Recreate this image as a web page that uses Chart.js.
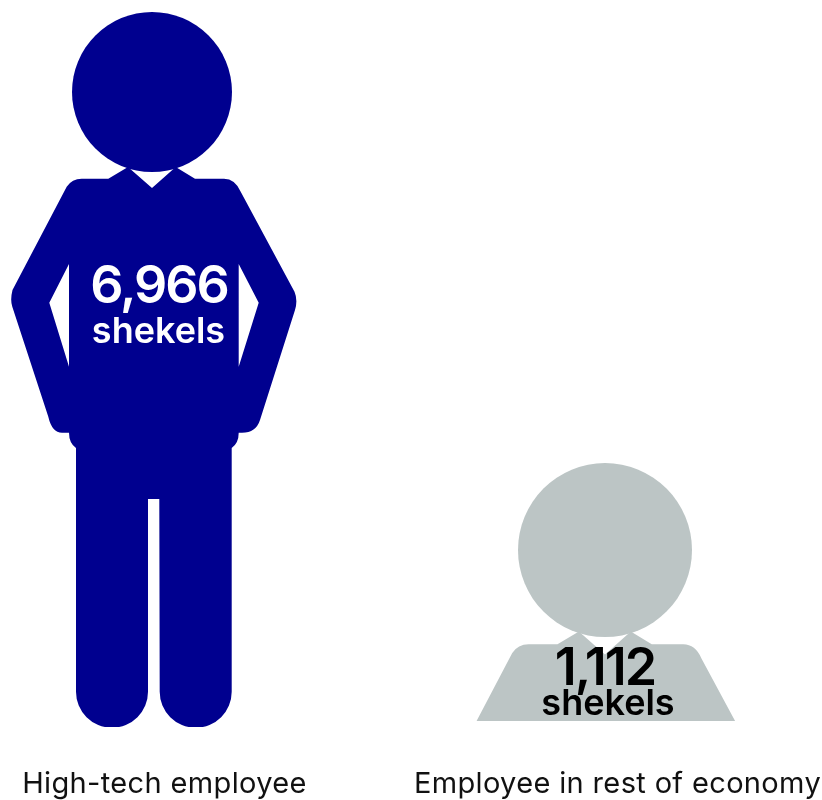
<!DOCTYPE html>
<html>
<head>
<meta charset="utf-8">
<style>
  html, body { margin: 0; padding: 0; background: #fff; }
  canvas { display: block; }
</style>
<script src="https://cdn.jsdelivr.net/npm/chart.js@4"></script>
</head>
<body>
<canvas id="grafico" width="822" height="800"></canvas>
<script>
const categories = ["High-tech employee", "Employee in rest of economy"];
const values = [6966, 1112];
const unitLabel = "shekels";
const colors = ["#00008f", "#bcc5c5"];
const textColors = ["#ffffff", "#000000"];

// figure is traced with its head top at 0,0 and head centre on x=0, at the size of the tall one
const HEAD_R = 80;
const BODY = [
  ["M", -24, 155], ["L", 0, 176], ["L", 23.7, 155], ["L", 43, 166.7], ["L", 72, 166.7],
  ["Q", 83, 166.7, 88.7, 179.7], ["L", 142.5, 279.7], ["Q", 146, 288, 143, 298],
  ["L", 108, 408], ["Q", 104, 420.7, 90, 420.7], ["L", 86.7, 420.7],
  ["Q", 86.7, 431, 79.7, 436], ["L", 79.7, 679.7], ["A", 43.7, 679.7, 36],
  ["L", 7.3, 487], ["L", -4, 487], ["L", -4, 679.7], ["A", -40, 679.7, 36],
  ["L", -76, 436], ["Q", -83, 431, -83, 420.7], ["L", -90, 420.7],
  ["Q", -100, 420.7, -103.7, 404.7], ["L", -139.7, 294.7], ["Q", -142, 288, -139.5, 278],
  ["L", -85.3, 174.7], ["Q", -80, 166.7, -70.3, 166.7], ["L", -43.7, 166.7], ["Z"],
  ["M", -83, 252], ["L", -102.7, 290.7], ["L", -83, 354.7], ["Z"],
  ["M", 86.7, 252], ["L", 106.7, 290.7], ["L", 86.7, 354.7], ["Z"]
];

const figureScale = [1, 1.0875];
const cropBottom = [0, 6];
const labelStyles = [
  { numX: 7, numY: 291, numFont: "600 52px Inter", numGap: "-2px", unitX: 6.5, unitY: 331, unitFont: "600 36px Inter", unitGap: "0px" },
  { numX: 0, numY: 222, numFont: "600 52px Inter", numGap: "-2px", unitX: 3, unitY: 252, unitFont: "600 36px Inter", unitGap: "0px" }
];

const silueta = {
  id: "silueta",
  // chart.js has no option for this, ticks pick it up from the context
  beforeDraw(chart) {
    chart.ctx.letterSpacing = "0.35px";
  },
  beforeDatasetDraw(chart, args) {
    const { ctx } = chart;
    args.meta.data.forEach((bar, i) => {
      const s = figureScale[i];
      ctx.save();
      ctx.beginPath();
      ctx.rect(0, 0, chart.width, bar.base - cropBottom[i]);
      ctx.clip();
      ctx.translate(bar.x, bar.y);
      ctx.scale(s, s);
      ctx.fillStyle = colors[i];
      ctx.beginPath();
      ctx.arc(0, HEAD_R, HEAD_R, 0, Math.PI * 2);
      ctx.fill();
      ctx.beginPath();
      BODY.forEach(p => {
        if (p[0] === "M") ctx.moveTo(p[1], p[2]);
        else if (p[0] === "L") ctx.lineTo(p[1], p[2]);
        else if (p[0] === "Q") ctx.quadraticCurveTo(p[1], p[2], p[3], p[4]);
        else if (p[0] === "A") ctx.arc(p[1], p[2], p[3], 0, Math.PI);
        else ctx.closePath();
      });
      ctx.fill("evenodd");
      ctx.restore();

      const st = labelStyles[i];
      ctx.save();
      ctx.fillStyle = textColors[i];
      ctx.textAlign = "center";
      ctx.textBaseline = "alphabetic";
      ctx.font = st.numFont;
      ctx.letterSpacing = st.numGap;
      ctx.fillText(values[i].toLocaleString("en-US"), bar.x + st.numX, bar.y + st.numY);
      ctx.font = st.unitFont;
      ctx.letterSpacing = st.unitGap;
      ctx.fillText(unitLabel, bar.x + st.unitX, bar.y + st.unitY);
      ctx.restore();
    });
    return false;
  }
};

new Chart(document.getElementById("grafico"), {
  type: "bar",
  data: {
    labels: categories,
    datasets: [{ data: values, backgroundColor: colors }]
  },
  plugins: [silueta],
  options: {
    responsive: false,
    animation: false,
    layout: { padding: { left: 152, right: 217, top: 12, bottom: 0 } },
    plugins: { legend: { display: false }, tooltip: { enabled: false } },
    scales: {
      x: {
        offset: false,
        border: { display: false },
        grid: { display: false, offset: false, drawTicks: false },
        afterFit(scale) {
          scale.height = 73;
          scale.paddingLeft = 0;
          scale.paddingRight = 0;
        },
        ticks: {
          autoSkip: false,
          maxRotation: 0,
          padding: 40,
          labelOffset: 12.5,
          color: "#111111",
          font: { family: "Inter", size: 29 }
        }
      },
      y: { type: "logarithmic", display: false, min: 380, max: 6966 }
    }
  }
});
</script>
</body>
</html>
